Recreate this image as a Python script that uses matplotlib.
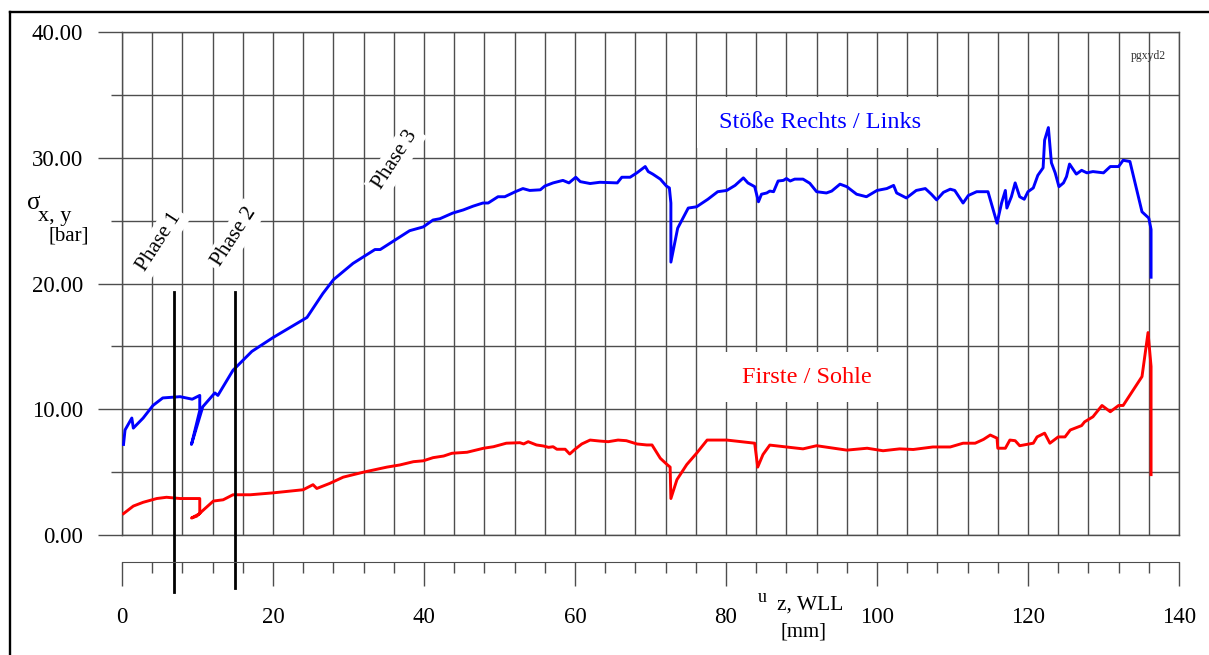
import numpy as np
import matplotlib
matplotlib.use("Agg")
import matplotlib.pyplot as plt
from matplotlib.lines import Line2D
from matplotlib.patches import Rectangle

plt.rcParams['font.family'] = ['Liberation Serif', 'DejaVu Serif']

# Stoesse Rechts / Links
blue_x = [0.2, 0.4, 1.3, 1.5, 2.8, 4.1, 5.4, 7.7, 9.3, 10.3,
          10.3, 9.2, 10.7, 12.3, 12.7, 14.7, 17.2, 20, 24.5, 26.6,
          28, 30.6, 33.5, 34.2, 36.8, 38.1, 39.9, 41.2, 42.1, 43.8,
          45.2, 46.5, 47.8, 48.5, 49.8, 50.7, 52.1, 53.1, 54, 55.4,
          56, 57.1, 58.4, 59.2, 60.1, 60.7, 62, 63.3, 65.6, 66.2,
          67.3, 68.2, 69.3, 69.7, 70.3, 71.3, 72.1, 72.5, 72.7, 72.7,
          73.6, 75, 76.1, 77.6, 78.9, 80.1, 81.2, 82.3, 82.9, 83.8,
          84.3, 84.7, 85.4, 85.8, 86.3, 86.9, 87.6, 88, 88.5, 89.1,
          90.2, 91.1, 92, 93.3, 94, 95.1, 96, 97.3, 98.6, 100,
          101.3, 102.2, 102.6, 103.9, 105.2, 106.4, 107.2, 107.9, 108.8, 109.7,
          110.3, 111.4, 112.1, 113.2, 114.7, 115.9, 116.5, 117, 117.2, 117.8,
          118.3, 118.9, 119.5, 120, 120.7, 121.3, 122, 122.2, 122.7, 123.1,
          123.6, 124.1, 124.7, 125.1, 125.5, 126.4, 127.1, 127.8, 128.6, 130,
          130.9, 132, 132.6, 133.5, 135.1, 136, 136.3, 136.3]
blue_y = [7.2, 8.35, 9.3, 8.5, 9.3, 10.3, 10.9, 11.0, 10.8, 11.1,
          9.9, 7.2, 10.2, 11.3, 11.1, 13.1, 14.6, 15.7, 17.3, 19.2,
          20.3, 21.6, 22.7, 22.7, 23.7, 24.2, 24.5, 25.05, 25.15, 25.6,
          25.85, 26.15, 26.4, 26.4, 26.9, 26.9, 27.3, 27.55, 27.4, 27.45,
          27.75, 28.0, 28.2, 28.0, 28.45, 28.1, 27.95, 28.05, 28.0, 28.45,
          28.45, 28.8, 29.3, 28.9, 28.7, 28.3, 27.75, 27.6, 26.4, 21.7,
          24.4, 26.0, 26.1, 26.7, 27.3, 27.4, 27.8, 28.4, 28.0, 27.7,
          26.5, 27.1, 27.2, 27.35, 27.3, 28.15, 28.2, 28.35, 28.15, 28.3,
          28.3, 27.97, 27.3, 27.2, 27.35, 27.9, 27.7, 27.1, 26.9, 27.4,
          27.55, 27.8, 27.2, 26.8, 27.4, 27.55, 27.1, 26.65, 27.25, 27.5,
          27.4, 26.4, 27.0, 27.3, 27.3, 24.8, 26.4, 27.4, 26.0, 26.9,
          28.0, 26.9, 26.7, 27.3, 27.6, 28.6, 29.2, 31.4, 32.4, 29.6,
          28.8, 27.7, 28.0, 28.5, 29.5, 28.7, 29.0, 28.8, 28.9, 28.8,
          29.3, 29.3, 29.8, 29.7, 25.7, 25.2, 24.3, 20.5]

# Firste / Sohle
red_x = [0.2, 1.5, 2.8, 4.6, 5.9, 7.7, 10.3, 10.3, 9.2, 9.9,
         10.8, 12.1, 13.4, 14.7, 17, 20, 24, 25.3, 25.8, 27.5,
         29.3, 32, 35.1, 36.8, 38.6, 39.9, 41.2, 42.6, 43.7, 45.7,
         47.9, 49.2, 50.9, 52.7, 53.2, 53.8, 54.9, 55.8, 56.5, 57.1,
         57.6, 58.7, 59.3, 60, 60.9, 62, 63.3, 64.4, 65.7, 66.8,
         68.2, 69.5, 70.2, 71.3, 72.2, 72.6, 72.7, 73.5, 74.8, 76.1,
         77.5, 80.1, 83.8, 84.2, 84.9, 85.8, 88, 90.2, 92, 96,
         98.7, 100.8, 103, 104.8, 107.4, 109.7, 111.4, 113, 114.1, 115,
         115.9, 116, 117, 117.6, 118.3, 118.9, 120.7, 121.2, 122.2, 122.9,
         124, 124.9, 125.6, 127.1, 127.5, 128.6, 129.8, 130.9, 132, 132.6,
         135.1, 135.9, 136.3, 136.3]
red_y = [1.7, 2.3, 2.6, 2.9, 3.0, 2.9, 2.9, 1.7, 1.35, 1.5,
         2.0, 2.7, 2.8, 3.2, 3.2, 3.35, 3.6, 4.0, 3.7, 4.1,
         4.6, 5.0, 5.4, 5.57, 5.83, 5.9, 6.15, 6.28, 6.5, 6.58,
         6.9, 7.02, 7.3, 7.34, 7.24, 7.42, 7.16, 7.08, 6.97, 7.02,
         6.82, 6.82, 6.44, 6.82, 7.24, 7.55, 7.47, 7.42, 7.55, 7.5,
         7.24, 7.16, 7.16, 6.1, 5.6, 5.4, 2.9, 4.4, 5.6, 6.5,
         7.55, 7.55, 7.3, 5.4, 6.4, 7.15, 7.0, 6.85, 7.1, 6.75,
         6.9, 6.7, 6.85, 6.8, 7.0, 7.0, 7.3, 7.3, 7.6, 7.95,
         7.7, 6.9, 6.9, 7.55, 7.5, 7.1, 7.3, 7.8, 8.1, 7.3,
         7.8, 7.8, 8.35, 8.7, 9.0, 9.4, 10.3, 9.8, 10.3, 10.3,
         12.6, 16.1, 13.4, 4.8]

phase_x = [6.9, 14.97]
phase_labels = ["Phase 1", "Phase 2", "Phase 3"]
phase_label_pos = [(4.9, 23.3), (14.9, 23.7), (36.2, 29.8)]

W, H = 1209, 655
fig = plt.figure(figsize=(W / 100, H / 100), dpi=100)
ax = fig.add_axes([122 / W, 120 / H, 1057 / W, 503 / H])
gc = '0.3'

ax.set_xlim(0, 140)
ax.set_ylim(0, 40)
ax.set_xticks(np.arange(0, 141, 4))
ax.tick_params(axis='x', length=0, labelbottom=False)
ax.set_yticks([0, 10, 20, 30, 40])
ax.set_yticks([5, 15, 25, 35], minor=True)
ax.set_yticklabels([f"{v:.2f}" for v in [0, 10, 20, 30, 40]], fontsize=16.5)
ax.tick_params(axis='y', which='major', length=17.5, width=1, color=gc, pad=10.5)
ax.tick_params(axis='y', which='minor', length=8, width=1, color=gc)
ax.grid(axis='x', color=gc, lw=1)
ax.grid(axis='y', which='both', color=gc, lw=1)
ax.set_axisbelow(True)
for s in ax.spines.values():
    s.set_color(gc)
    s.set_linewidth(1)

ax.plot(blue_x, blue_y, color='#0000ff', lw=2.1, zorder=3)
ax.plot(red_x, red_y, color='#ff0000', lw=2.1, zorder=3)

for px, yb in zip(phase_x, [-4.5, -4.2]):
    ax.plot([px, px], [19.3, yb], color='k', lw=2.0, clip_on=False, zorder=4)

for lab, (tx, ty) in zip(phase_labels, phase_label_pos):
    ax.text(tx, ty, lab, rotation=57, ha='center', va='center', fontsize=15.5,
            rotation_mode='anchor',
            bbox=dict(fc='white', ec='none', pad=3), zorder=2.5)

# white boxes behind the series labels
ax.add_patch(Rectangle((76.2, 30.8), 32.8, 4.05, fc='white', ec='none', zorder=1))
ax.add_patch(Rectangle((79.2, 10.6), 23.6, 3.95, fc='white', ec='none', zorder=1))
ax.text(92.5, 32.8, "Stöße Rechts / Links", color='#0000ff', fontsize=17.5,
        ha='center', va='center', zorder=2.5)
ax.text(90.7, 12.5, "Firste / Sohle", color='#ff0000', fontsize=17.5,
        ha='center', va='center', zorder=2.5)
ax.text(136.0, 38.1, "pgxyd2", fontsize=8.5, ha='center', va='center', color='0.2')

# separate x axis below the plot
ax2 = fig.add_axes([122 / W, (H - 562) / H, 1057 / W, 0.0001])
ax2.patch.set_visible(False)
for k in ['top', 'left', 'right']:
    ax2.spines[k].set_visible(False)
ax2.spines['bottom'].set_color(gc)
ax2.set_xlim(0, 140)
ax2.set_yticks([])
ax2.set_xticks(np.arange(0, 141, 20))
ax2.set_xticks(np.arange(0, 141, 4), minor=True)
ax2.tick_params(axis='x', which='major', length=17.5, width=1, color=gc, labelsize=16.5, pad=15)
ax2.tick_params(axis='x', which='minor', length=8, width=1, color=gc)

# axis labels
fig.text(27 / W, 1 - 209 / H, "σ", fontsize=18, va='baseline')
fig.text(38 / W, 1 - 221 / H, "x, y", fontsize=16, va='baseline')
fig.text(48 / W, 1 - 236 / H, "[bar]", fontsize=15, va='center')
fig.text(758 / W, 1 - 597 / H, "u", fontsize=13, va='center')
fig.text(777 / W, 1 - 605 / H, "z, WLL", fontsize=15.5, va='center')
fig.text(780 / W, 1 - 632 / H, "[mm]", fontsize=15, va='center')

# frame
fig.add_artist(Line2D([10 / W, 10 / W], [0, 1 - 12 / H], color='k', lw=1.7))
fig.add_artist(Line2D([10 / W, 1], [1 - 12 / H, 1 - 12 / H], color='k', lw=1.7))

fig.savefig("out.png", dpi=100)
